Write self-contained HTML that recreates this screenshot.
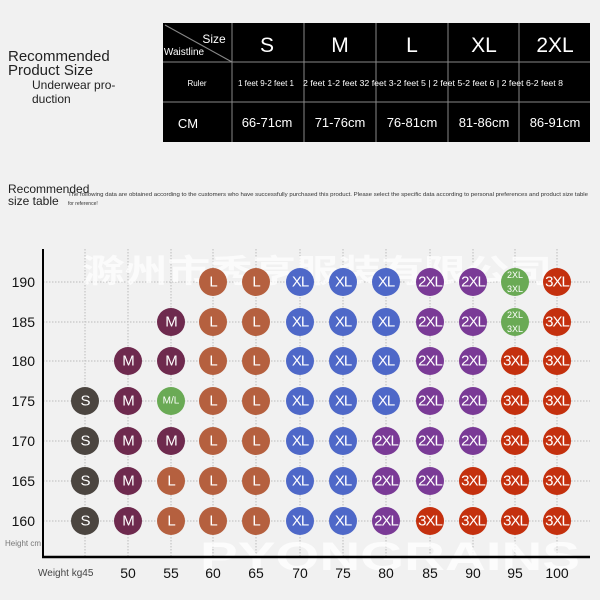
<!DOCTYPE html>
<html><head><meta charset="utf-8"><style>
html,body{margin:0;padding:0;background:#f1f1f1;}
svg{display:block;font-family:"Liberation Sans",sans-serif;}
.c text{fill:#fff;font-size:15px;text-anchor:middle;dominant-baseline:central;font-family:"Liberation Sans Narrow","Liberation Sans",sans-serif;letter-spacing:-1px;}
</style></head><body>
<svg width="600" height="600" viewBox="0 0 600 600">
<rect width="600" height="600" fill="#f1f1f1"/>
<text x="8" y="61" font-size="15" fill="#222">Recommended</text>
<text x="8" y="75" font-size="15" fill="#222">Product Size</text>
<text x="32" y="89" font-size="12" fill="#222">Underwear pro-</text>
<text x="32" y="103" font-size="12" fill="#222">duction</text>
<rect x="163" y="23" width="427" height="119" fill="#000"/>
<g stroke="#888" stroke-width="1">
<line x1="163" y1="62" x2="590" y2="62"/><line x1="163" y1="102" x2="590" y2="102"/>
<line x1="232" y1="23" x2="232" y2="142"/><line x1="304" y1="23" x2="304" y2="142"/>
<line x1="376" y1="23" x2="376" y2="142"/><line x1="448" y1="23" x2="448" y2="142"/>
<line x1="519" y1="23" x2="519" y2="142"/>
<line x1="165" y1="25" x2="232" y2="62"/>
</g>
<g fill="#fff" text-anchor="middle">
<text x="214" y="43" font-size="12">Size</text>
<text x="184" y="55" font-size="10">Waistline</text>
<text x="267" y="52" font-size="21">S</text>
<text x="340" y="52" font-size="21">M</text>
<text x="412" y="52" font-size="21">L</text>
<text x="484" y="52" font-size="21">XL</text>
<text x="555" y="52" font-size="21">2XL</text>
<text x="197" y="86" font-size="8">Ruler</text>
<text x="266" y="86" font-size="8">1 feet 9-2 feet 1</text>
<text x="433" y="86" font-size="8" textLength="260" lengthAdjust="spacingAndGlyphs">2 feet 1-2 feet 32 feet 3-2 feet 5 | 2 feet 5-2 feet 6 | 2 feet 6-2 feet 8</text>
<text x="188" y="128" font-size="13">CM</text>
<text x="267" y="127" font-size="13">66-71cm</text>
<text x="340" y="127" font-size="13">71-76cm</text>
<text x="412" y="127" font-size="13">76-81cm</text>
<text x="484" y="127" font-size="13">81-86cm</text>
<text x="555" y="127" font-size="13">86-91cm</text>
</g>
<text x="8" y="193" font-size="12" fill="#222">Recommended</text>
<text x="8" y="205" font-size="12" fill="#222">size table</text>
<text x="68" y="196" font-size="5" fill="#333" textLength="520" lengthAdjust="spacingAndGlyphs">The following data are obtained according to the customers who have successfully purchased this product. Please select the specific data according to personal preferences and product size table</text>
<text x="68" y="205" font-size="5" fill="#333">for reference!</text>
<g stroke="#bbb" stroke-width="1" stroke-dasharray="1.5,1.5">
<line x1="43" y1="282" x2="590" y2="282"/><line x1="43" y1="322" x2="590" y2="322"/>
<line x1="43" y1="361" x2="590" y2="361"/><line x1="43" y1="401" x2="590" y2="401"/>
<line x1="43" y1="441" x2="590" y2="441"/><line x1="43" y1="481" x2="590" y2="481"/>
<line x1="43" y1="521" x2="590" y2="521"/>
<line x1="85" y1="249" x2="85" y2="557"/><line x1="128" y1="249" x2="128" y2="557"/>
<line x1="171" y1="249" x2="171" y2="557"/><line x1="213" y1="249" x2="213" y2="557"/>
<line x1="256" y1="249" x2="256" y2="557"/><line x1="300" y1="249" x2="300" y2="557"/>
<line x1="343" y1="249" x2="343" y2="557"/><line x1="386" y1="249" x2="386" y2="557"/>
<line x1="430" y1="249" x2="430" y2="557"/><line x1="473" y1="249" x2="473" y2="557"/>
<line x1="515" y1="249" x2="515" y2="557"/><line x1="557" y1="249" x2="557" y2="557"/>
</g>
<text x="82" y="282" font-size="32" font-weight="bold" fill="#fff" opacity="0.75" textLength="470" lengthAdjust="spacingAndGlyphs" font-family="'Noto Sans CJK SC',sans-serif">滁州市秀亨服装有限公司</text>
<text x="200" y="570" font-size="40" font-weight="bold" fill="#fff" opacity="0.8" textLength="380" lengthAdjust="spacingAndGlyphs">PYONGRAINS</text>
<line x1="43" y1="249" x2="43" y2="558" stroke="#000" stroke-width="2"/>
<line x1="42" y1="557" x2="590" y2="557" stroke="#000" stroke-width="2.5"/>
<g font-size="14" fill="#111" text-anchor="end">
<text x="35" y="287">190</text><text x="35" y="327">185</text><text x="35" y="366">180</text>
<text x="35" y="406">175</text><text x="35" y="446">170</text><text x="35" y="486">165</text>
<text x="35" y="526">160</text>
</g>
<text x="5" y="546" font-size="8" fill="#777">Height cm</text>
<text x="38" y="576" font-size="10" fill="#444">Weight kg45</text>
<g font-size="14" fill="#111" text-anchor="middle">
<text x="128" y="578">50</text><text x="171" y="578">55</text><text x="213" y="578">60</text>
<text x="256" y="578">65</text><text x="300" y="578">70</text><text x="343" y="578">75</text>
<text x="386" y="578">80</text><text x="430" y="578">85</text><text x="473" y="578">90</text>
<text x="515" y="578">95</text><text x="557" y="578">100</text>
</g>
<g class="c">
<circle cx="213" cy="282" r="14" fill="#b5603f"/><text x="213" y="282">L</text>
<circle cx="256" cy="282" r="14" fill="#b5603f"/><text x="256" y="282">L</text>
<circle cx="300" cy="282" r="14" fill="#4e68c8"/><text x="300" y="282">XL</text>
<circle cx="343" cy="282" r="14" fill="#4e68c8"/><text x="343" y="282">XL</text>
<circle cx="386" cy="282" r="14" fill="#4e68c8"/><text x="386" y="282">XL</text>
<circle cx="430" cy="282" r="14" fill="#7a3a96"/><text x="430" y="282">2XL</text>
<circle cx="473" cy="282" r="14" fill="#7a3a96"/><text x="473" y="282">2XL</text>
<circle cx="515" cy="282" r="14" fill="#6aaa55"/><text x="515" y="275" style="font-size:9px;letter-spacing:0">2XL</text><text x="515" y="289" style="font-size:9px;letter-spacing:0">3XL</text>
<circle cx="557" cy="282" r="14" fill="#c4300e"/><text x="557" y="282">3XL</text>
<circle cx="171" cy="322" r="14" fill="#6e2a4e"/><text x="171" y="322">M</text>
<circle cx="213" cy="322" r="14" fill="#b5603f"/><text x="213" y="322">L</text>
<circle cx="256" cy="322" r="14" fill="#b5603f"/><text x="256" y="322">L</text>
<circle cx="300" cy="322" r="14" fill="#4e68c8"/><text x="300" y="322">XL</text>
<circle cx="343" cy="322" r="14" fill="#4e68c8"/><text x="343" y="322">XL</text>
<circle cx="386" cy="322" r="14" fill="#4e68c8"/><text x="386" y="322">XL</text>
<circle cx="430" cy="322" r="14" fill="#7a3a96"/><text x="430" y="322">2XL</text>
<circle cx="473" cy="322" r="14" fill="#7a3a96"/><text x="473" y="322">2XL</text>
<circle cx="515" cy="322" r="14" fill="#6aaa55"/><text x="515" y="315" style="font-size:9px;letter-spacing:0">2XL</text><text x="515" y="329" style="font-size:9px;letter-spacing:0">3XL</text>
<circle cx="557" cy="322" r="14" fill="#c4300e"/><text x="557" y="322">3XL</text>
<circle cx="128" cy="361" r="14" fill="#6e2a4e"/><text x="128" y="361">M</text>
<circle cx="171" cy="361" r="14" fill="#6e2a4e"/><text x="171" y="361">M</text>
<circle cx="213" cy="361" r="14" fill="#b5603f"/><text x="213" y="361">L</text>
<circle cx="256" cy="361" r="14" fill="#b5603f"/><text x="256" y="361">L</text>
<circle cx="300" cy="361" r="14" fill="#4e68c8"/><text x="300" y="361">XL</text>
<circle cx="343" cy="361" r="14" fill="#4e68c8"/><text x="343" y="361">XL</text>
<circle cx="386" cy="361" r="14" fill="#4e68c8"/><text x="386" y="361">XL</text>
<circle cx="430" cy="361" r="14" fill="#7a3a96"/><text x="430" y="361">2XL</text>
<circle cx="473" cy="361" r="14" fill="#7a3a96"/><text x="473" y="361">2XL</text>
<circle cx="515" cy="361" r="14" fill="#c4300e"/><text x="515" y="361">3XL</text>
<circle cx="557" cy="361" r="14" fill="#c4300e"/><text x="557" y="361">3XL</text>
<circle cx="85" cy="401" r="14" fill="#4b4540"/><text x="85" y="401">S</text>
<circle cx="128" cy="401" r="14" fill="#6e2a4e"/><text x="128" y="401">M</text>
<circle cx="171" cy="401" r="14" fill="#6aaa55"/><text x="171" y="401" style="font-size:10px;letter-spacing:0">M/L</text>
<circle cx="213" cy="401" r="14" fill="#b5603f"/><text x="213" y="401">L</text>
<circle cx="256" cy="401" r="14" fill="#b5603f"/><text x="256" y="401">L</text>
<circle cx="300" cy="401" r="14" fill="#4e68c8"/><text x="300" y="401">XL</text>
<circle cx="343" cy="401" r="14" fill="#4e68c8"/><text x="343" y="401">XL</text>
<circle cx="386" cy="401" r="14" fill="#4e68c8"/><text x="386" y="401">XL</text>
<circle cx="430" cy="401" r="14" fill="#7a3a96"/><text x="430" y="401">2XL</text>
<circle cx="473" cy="401" r="14" fill="#7a3a96"/><text x="473" y="401">2XL</text>
<circle cx="515" cy="401" r="14" fill="#c4300e"/><text x="515" y="401">3XL</text>
<circle cx="557" cy="401" r="14" fill="#c4300e"/><text x="557" y="401">3XL</text>
<circle cx="85" cy="441" r="14" fill="#4b4540"/><text x="85" y="441">S</text>
<circle cx="128" cy="441" r="14" fill="#6e2a4e"/><text x="128" y="441">M</text>
<circle cx="171" cy="441" r="14" fill="#6e2a4e"/><text x="171" y="441">M</text>
<circle cx="213" cy="441" r="14" fill="#b5603f"/><text x="213" y="441">L</text>
<circle cx="256" cy="441" r="14" fill="#b5603f"/><text x="256" y="441">L</text>
<circle cx="300" cy="441" r="14" fill="#4e68c8"/><text x="300" y="441">XL</text>
<circle cx="343" cy="441" r="14" fill="#4e68c8"/><text x="343" y="441">XL</text>
<circle cx="386" cy="441" r="14" fill="#7a3a96"/><text x="386" y="441">2XL</text>
<circle cx="430" cy="441" r="14" fill="#7a3a96"/><text x="430" y="441">2XL</text>
<circle cx="473" cy="441" r="14" fill="#7a3a96"/><text x="473" y="441">2XL</text>
<circle cx="515" cy="441" r="14" fill="#c4300e"/><text x="515" y="441">3XL</text>
<circle cx="557" cy="441" r="14" fill="#c4300e"/><text x="557" y="441">3XL</text>
<circle cx="85" cy="481" r="14" fill="#4b4540"/><text x="85" y="481">S</text>
<circle cx="128" cy="481" r="14" fill="#6e2a4e"/><text x="128" y="481">M</text>
<circle cx="171" cy="481" r="14" fill="#b5603f"/><text x="171" y="481">L</text>
<circle cx="213" cy="481" r="14" fill="#b5603f"/><text x="213" y="481">L</text>
<circle cx="256" cy="481" r="14" fill="#b5603f"/><text x="256" y="481">L</text>
<circle cx="300" cy="481" r="14" fill="#4e68c8"/><text x="300" y="481">XL</text>
<circle cx="343" cy="481" r="14" fill="#4e68c8"/><text x="343" y="481">XL</text>
<circle cx="386" cy="481" r="14" fill="#7a3a96"/><text x="386" y="481">2XL</text>
<circle cx="430" cy="481" r="14" fill="#7a3a96"/><text x="430" y="481">2XL</text>
<circle cx="473" cy="481" r="14" fill="#c4300e"/><text x="473" y="481">3XL</text>
<circle cx="515" cy="481" r="14" fill="#c4300e"/><text x="515" y="481">3XL</text>
<circle cx="557" cy="481" r="14" fill="#c4300e"/><text x="557" y="481">3XL</text>
<circle cx="85" cy="521" r="14" fill="#4b4540"/><text x="85" y="521">S</text>
<circle cx="128" cy="521" r="14" fill="#6e2a4e"/><text x="128" y="521">M</text>
<circle cx="171" cy="521" r="14" fill="#b5603f"/><text x="171" y="521">L</text>
<circle cx="213" cy="521" r="14" fill="#b5603f"/><text x="213" y="521">L</text>
<circle cx="256" cy="521" r="14" fill="#b5603f"/><text x="256" y="521">L</text>
<circle cx="300" cy="521" r="14" fill="#4e68c8"/><text x="300" y="521">XL</text>
<circle cx="343" cy="521" r="14" fill="#4e68c8"/><text x="343" y="521">XL</text>
<circle cx="386" cy="521" r="14" fill="#7a3a96"/><text x="386" y="521">2XL</text>
<circle cx="430" cy="521" r="14" fill="#c4300e"/><text x="430" y="521">3XL</text>
<circle cx="473" cy="521" r="14" fill="#c4300e"/><text x="473" y="521">3XL</text>
<circle cx="515" cy="521" r="14" fill="#c4300e"/><text x="515" y="521">3XL</text>
<circle cx="557" cy="521" r="14" fill="#c4300e"/><text x="557" y="521">3XL</text>
</g>
</svg>
</body></html>
